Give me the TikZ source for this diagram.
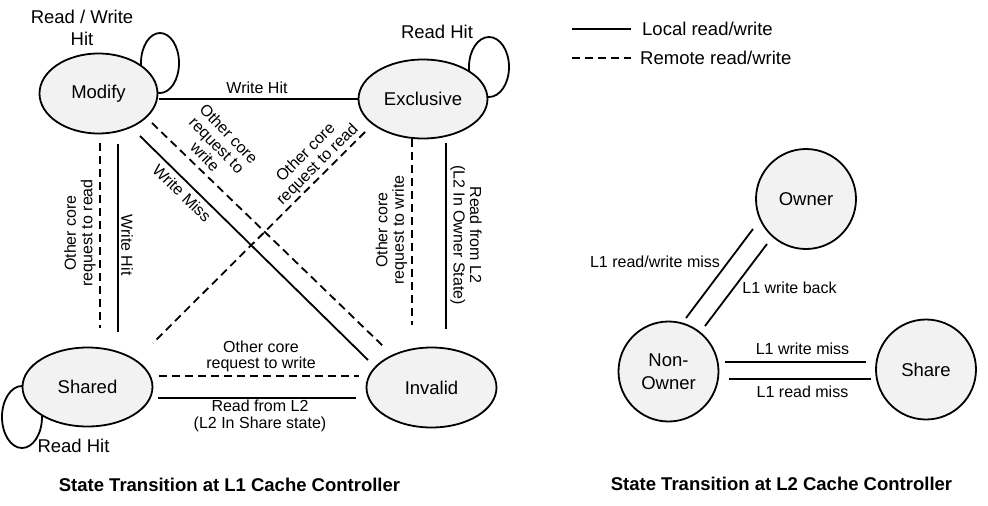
\documentclass[tikz,border=0pt]{standalone}
\usepackage{fontspec}
\setmainfont{Liberation Sans}
\usetikzlibrary{shapes.geometric,backgrounds}
\definecolor{nodefill}{RGB}{242,242,242}
\begin{document}
\begin{tikzpicture}[x=1pt,y=-1pt,
  st/.style={ellipse,draw,line width=1.8pt,fill=nodefill,inner sep=0pt,font=\fontsize{18.5}{22}\selectfont},
  cst/.style={circle,draw,line width=1.8pt,fill=nodefill,inner sep=0pt,minimum size=100pt,align=center,font=\fontsize{18.5}{23}\selectfont},
  lab/.style={inner sep=0pt,align=center,font=\fontsize{16}{16.5}\selectfont},
  big/.style={inner sep=0pt,align=center,font=\fontsize{18.5}{22}\selectfont},
  loc/.style={line width=1.8pt},
  rem/.style={line width=1.8pt,dash pattern=on 8pt off 5pt},
  ttl/.style={inner sep=0pt,font=\bfseries\fontsize{18.5}{22}\selectfont}]
\useasboundingbox (0,0) rectangle (988,506);

% ---- L1 states ----
\node[st,minimum width=118pt,minimum height=80pt] (mod) at (98.5,93.5) {Modify};
\node[st,minimum width=129pt,minimum height=79pt] (exc) at (423,99) {Exclusive};
\node[st,minimum width=130pt,minimum height=79pt] (sha) at (87.5,387) {Shared};
\node[st,minimum width=130pt,minimum height=80pt] (inv) at (431.5,387.5) {Invalid};

% self loops (behind the states)
\begin{scope}[on background layer]
\draw[loc] ([shift={(61.5,-30.5)}]mod.center) ellipse [x radius=19, y radius=30];
\draw[loc] ([shift={(66,-32)}]exc.center) ellipse [x radius=20, y radius=30];
\draw[loc] ([shift={(-65.5,30)}]sha.center) ellipse [x radius=20, y radius=31];
\end{scope}

\node[big] (lmod) at (82,28) {Read / Write\\Hit};
\node[big] (lexc) at (437,32) {Read Hit};
\node[big] (lsha) at (73.5,446) {Read Hit};

% connectors
\draw[loc] ([shift={(60.5,5.5)}]mod.center) -- ([shift={(-65,0)}]exc.center);
\node[lab] (l1) at (257,88) {Write Hit};

\draw[rem] ([shift={(1.5,49.5)}]mod.center) -- ([shift={(12.5,-59)}]sha.center);
\draw[loc] ([shift={(19.5,50.5)}]mod.center) -- ([shift={(30.5,-55)}]sha.center);
\node[lab,rotate=90] (l2) at (80,233) {Other core\\request to read};
\node[lab,rotate=-90] (l3) at (127,245) {Write Hit};

\draw[rem] ([shift={(53.5,29.5)}]mod.center) -- ([shift={(-47.5,-40.5)}]inv.center);
\draw[loc] ([shift={(41.5,42.5)}]mod.center) -- ([shift={(-63.5,-27.5)}]inv.center);
\node[lab,rotate=-44.5] (l4) at (182,193) {Write Miss};
\node[lab,rotate=-46] (l5) at (217,145) {Other core\\request to\\write};

\draw[rem] ([shift={(-58,33)}]exc.center) -- ([shift={(65.5,-44)}]sha.center);
\node[lab,rotate=45] (l6) at (312,159) {Other core\\request to read};

\draw[rem] ([shift={(-11,40)}]exc.center) -- ([shift={(-19.5,-62.5)}]inv.center);
\draw[loc] ([shift={(23,44)}]exc.center) -- ([shift={(14.5,-58.5)}]inv.center);
\node[lab,rotate=90] (l7) at (391.5,230) {Other core\\request to write};
\node[lab,rotate=-90] (l8) at (466,235) {Read from L2\\(L2 In Owner State)};

\draw[rem] ([shift={(71.5,-11)}]sha.center) -- ([shift={(-72.5,-11.5)}]inv.center);
\draw[loc] ([shift={(70.5,11)}]sha.center) -- ([shift={(-75.5,10.5)}]inv.center);
\node[lab] (l9) at (261,356.5) {Other core\\request to write};
\node[lab] (l10) at (260,416) {Read from L2\\(L2 In Share state)};

\node[ttl] (t1) at (229.5,485) {State Transition at L1 Cache Controller};

% ---- legend ----
\coordinate (lga) at (572,29);
\coordinate (lgb) at (631,29);
\coordinate (lgc) at (572,58);
\coordinate (lgd) at (631,58);
\draw[loc] (lga) -- (lgb);
\draw[rem] (lgc) -- (lgd);
\node[big,anchor=west] (lg1) at (642,29) {Local read/write};
\node[big,anchor=west] (lg2) at (640,58) {Remote read/write};

% ---- L2 states ----
\node[cst] (own) at (806,199) {Owner};
\node[cst] (non) at (668.5,371.5) {Non-\\Owner};
\node[cst] (shr) at (926,369.5) {Share};

\draw[loc] ([shift={(17.5,-53.5)}]non.center) -- ([shift={(-53,30)}]own.center);
\draw[loc] ([shift={(36.5,-45.5)}]non.center) -- ([shift={(-39,45)}]own.center);
\draw[loc] ([shift={(56.5,-9.5)}]non.center) -- ([shift={(-60,-7.5)}]shr.center);
\draw[loc] ([shift={(60.5,7.5)}]non.center) -- ([shift={(-55,9.5)}]shr.center);
\node[lab] (m1) at (655,262) {L1 read/write miss};
\node[lab] (m2) at (789.5,288) {L1 write back};
\node[lab] (m3) at (802.5,349) {L1 write miss};
\node[lab] (m4) at (802.5,392) {L1 read miss};

\node[ttl] (t2) at (781.5,484) {State Transition at L2 Cache Controller};
\end{tikzpicture}
\end{document}
